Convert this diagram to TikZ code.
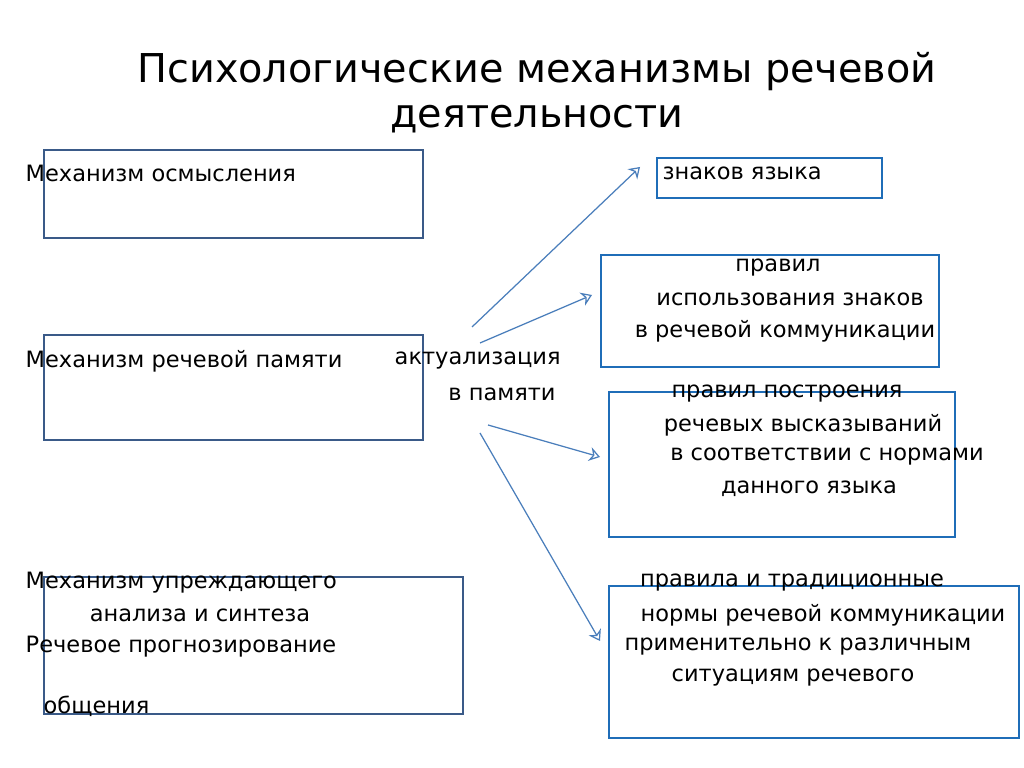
\documentclass[tikz,border=0pt]{standalone}
\usepackage{fontspec}
\setmainfont{DejaVu Sans}
\usetikzlibrary{arrows.meta}
\definecolor{boxdark}{HTML}{3A5A88}
\definecolor{boxblue}{HTML}{1F6DB8}
\definecolor{arrblue}{HTML}{4A7EBB}
\begin{document}
\begin{tikzpicture}[x=0.01cm,y=-0.01cm,
  lbox/.style={draw=boxdark,line width=0.8pt},
  rbox/.style={draw=boxblue,line width=0.8pt},
  txt/.style={inner sep=0pt,font=\fontsize{6.4}{7.5}\selectfont},
  link/.style={->,>={Stealth[open,length=3pt,width=4pt]},draw=arrblue,line width=0.35pt}]
\useasboundingbox[fill=white] (0,0) rectangle (1024,768);
% frames
\draw[lbox] (44,150) rectangle (423,238);
\draw[lbox] (44,335) rectangle (423,440);
\draw[lbox] (44,577) rectangle (463,714);
\draw[rbox] (657,158) rectangle (882,198);
\draw[rbox] (601,255) rectangle (939,367);
\draw[rbox] (609,392) rectangle (955,537);
\draw[rbox] (609,586) rectangle (1019,738);
% title
\node[txt,font=\fontsize{11.3}{13}\selectfont] (t1) at (537,72) {Психологические механизмы речевой};
\node[txt,font=\fontsize{11.3}{13}\selectfont] (t2) at (537,119) {деятельности};
% left texts
\node[txt,anchor=west] (m1) at (25,173) {Механизм осмысления};
\node[txt,anchor=west] (m2) at (25,361) {Механизм речевой памяти};
\node[txt,anchor=west] (a1) at (394,361) {актуализация};
\node[txt] (a2) at (502,394) {в памяти};
\node[txt,anchor=west] (m3) at (25,583) {Механизм упреждающего};
\node[txt] (m3b) at (200,615) {анализа и синтеза};
\node[txt,anchor=west] (m3c) at (25,647) {Речевое прогнозирование};
\node[txt,anchor=west] (m3d) at (43,706) {общения};
% right texts
\node[txt,anchor=west] (r1) at (662,173) {знаков языка};
\node[txt] (r2a) at (778,268) {правил};
\node[txt] (r2b) at (790,299) {использования знаков};
\node[txt] (r2c) at (785,331) {в речевой коммуникации};
\node[txt] (r3a) at (787,394) {правил построения};
\node[txt] (r3b) at (803,425) {речевых высказываний};
\node[txt] (r3c) at (827,457) {в соответствии с нормами};
\node[txt] (r3d) at (809,489) {данного языка};
\node[txt] (r4a) at (792,583) {правила и традиционные};
\node[txt] (r4b) at (823,615) {нормы речевой коммуникации};
\node[txt] (r4c) at (798,647) {применительно к различным};
\node[txt] (r4d) at (793,678) {ситуациям речевого};
% arrows
\coordinate (s1) at (472,327); \coordinate (e1) at (640,167);
\coordinate (s2) at (480,343); \coordinate (e2) at (592,295);
\coordinate (s3) at (488,425); \coordinate (e3) at (600,457);
\coordinate (s4) at (480,433); \coordinate (e4) at (600,641);
\draw[link] (s1) -- (e1);
\draw[link] (s2) -- (e2);
\draw[link] (s3) -- (e3);
\draw[link] (s4) -- (e4);
\end{tikzpicture}
\end{document}
